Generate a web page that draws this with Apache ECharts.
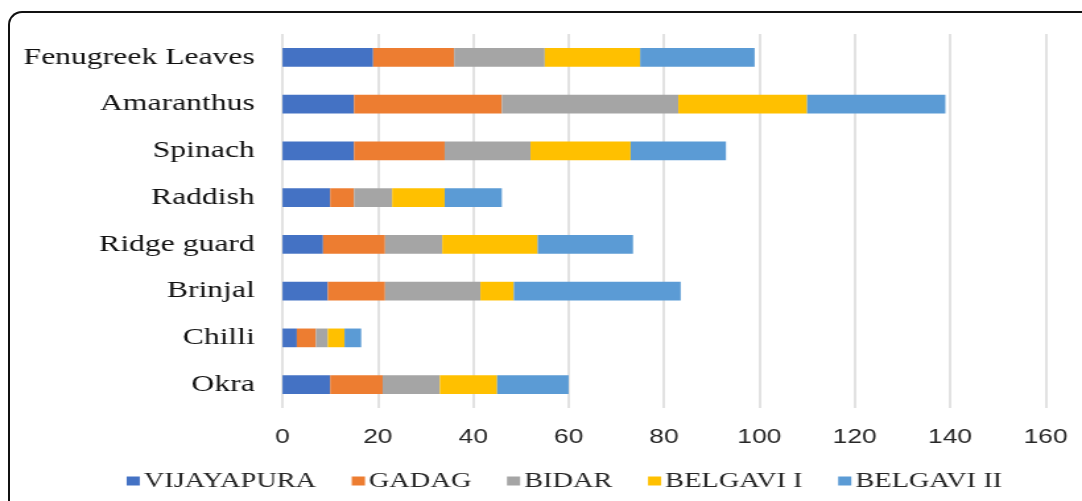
<!DOCTYPE html>
<html>
<head>
<meta charset="utf-8">
<script src="https://cdn.jsdelivr.net/npm/echarts@6/dist/echarts.min.js"></script>
<style>
  html, body { margin: 0; padding: 0; background: #fff; }
  #wrap { position: relative; width: 1082px; height: 501px; overflow: hidden; background: #fff; }
  #frame {
    position: absolute; left: 8px; top: 11px; width: 1200px; height: 600px;
    border-top: 2px solid #111; border-left: 2px solid #111;
    border-top-left-radius: 14px; box-sizing: border-box;
  }
  /* the chart is laid out narrow and widened horizontally, giving wide type */
  #chart {
    position: absolute; left: 0; top: 0; width: 820px; height: 501px;
    transform-origin: 0 0; transform: scaleX(1.319512);
  }
</style>
</head>
<body>
<div id="wrap">
  <div id="frame"></div>
  <div id="chart"></div>
</div>
<script>
// Vegetables, top to bottom
const categories = ['Fenugreek Leaves', 'Amaranthus', 'Spinach', 'Raddish', 'Ridge guard', 'Brinjal', 'Chilli', 'Okra'];

// District values per vegetable
const vijayapura = [19, 15, 15, 10, 8.5, 9.5, 3, 10];
const gadag      = [17, 31, 19, 5, 13, 12, 4, 11];
const bidar      = [19, 37, 18, 8, 12, 20, 2.5, 12];
const belgaviI   = [20, 27, 21, 11, 20, 7, 3.5, 12];
const belgaviII  = [24, 29, 20, 12, 20, 35, 3.5, 15];

const seriesNames = ['VIJAYAPURA', 'GADAG', 'BIDAR', 'BELGAVI I', 'BELGAVI II'];
const seriesData = [vijayapura, gadag, bidar, belgaviI, belgaviII];
const seriesColors = ['#4472C4', '#ED7D31', '#A5A5A5', '#FFC000', '#5B9BD5'];

// value axis ticks
const xMin = 0, xMax = 160, xStep = 20;

const W = 820;
const SX = 1082 / W;
const chart = echarts.init(document.getElementById('chart'), null, { renderer: 'canvas' });

chart.setOption({
  animation: false,
  backgroundColor: 'transparent',
  grid: {
    left: 282.5 / SX,
    right: W - 1045.5 / SX,
    top: 34,
    bottom: 93,
    containLabel: false
  },
  legend: {
    data: seriesNames,
    left: 120 / SX,
    top: 465,
    icon: 'rect',
    itemWidth: 10,
    itemHeight: 9,
    itemGap: 27,
    textStyle: {
      fontFamily: 'Liberation Serif',
      fontSize: 21.5,
      color: '#262626',
      padding: [0, 0, 0, -2]
    }
  },
  xAxis: {
    type: 'value',
    min: xMin,
    max: xMax,
    interval: xStep,
    axisLine: { show: false },
    axisTick: { show: false },
    splitLine: { lineStyle: { color: '#d9d9d9', width: 1.5 } },
    axisLabel: {
      margin: 19,
      fontFamily: 'Liberation Sans Narrow, Liberation Sans, sans-serif',
      fontSize: 20,
      color: '#262626'
    }
  },
  yAxis: {
    type: 'category',
    data: categories,
    inverse: true,
    axisLine: { show: false },
    axisTick: { show: false },
    axisLabel: {
      margin: 21,
      fontFamily: 'Liberation Serif',
      fontSize: 24,
      color: '#111'
    }
  },
  series: seriesNames.map((name, i) => ({
    name: name,
    type: 'bar',
    stack: 'total',
    barWidth: '40%',
    data: seriesData[i],
    itemStyle: { color: seriesColors[i] }
  }))
});
</script>
</body>
</html>
